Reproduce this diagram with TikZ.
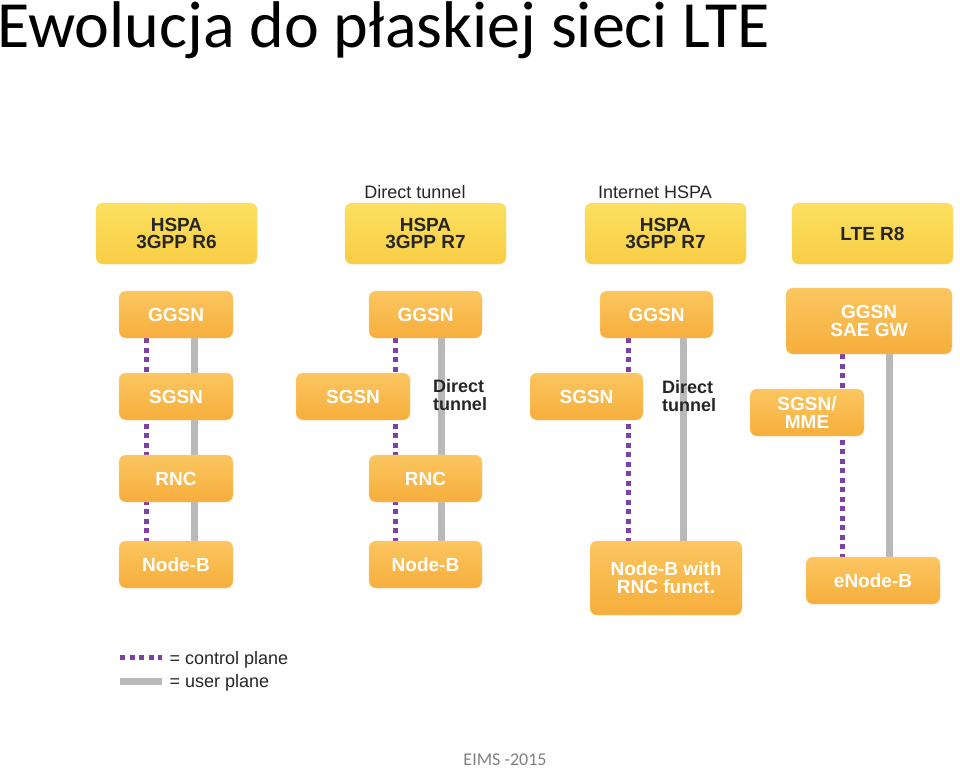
\documentclass[tikz,border=0pt]{standalone}
\usepackage{fontspec}
\setmainfont{Liberation Sans}
\newfontfamily\calib{Carlito}
\definecolor{ytop}{HTML}{FCE060}
\definecolor{ybot}{HTML}{F8CD45}
\definecolor{otop}{HTML}{FBC660}
\definecolor{obot}{HTML}{F6AE3C}
\definecolor{purp}{HTML}{7E3FA6}
\begin{document}
\begin{tikzpicture}[x=1pt,y=-1pt,
 hdr/.style={rounded corners=7pt,top color=ytop,bottom color=ybot,draw=ybot!80,font=\bfseries\fontsize{19}{17}\selectfont,align=center,text=black!85},
 el/.style={rounded corners=7pt,top color=otop,bottom color=obot,draw=otop!80,font=\bfseries\fontsize{19}{18}\selectfont,align=center,text=white},
 ctrl/.style={draw=purp,line width=5pt,dash pattern=on 5pt off 4.5pt},
 usr/.style={draw=gray!55,line width=7pt},
 lbl/.style={font=\fontsize{18}{17}\selectfont,align=left,text=black!85}]
\useasboundingbox (0,0) rectangle (960,769);
\node[anchor=north west,font=\calib\fontsize{66}{66}\selectfont,inner sep=0pt] (title) at (-3,1) {Ewolucja do płaskiej sieci LTE};
\node[font=\calib\fontsize{18}{18}\selectfont,text=gray] (foot) at (505,760) {EIMS -2015};
% lines
\coordinate (c1a) at (146,338); \coordinate (c1b) at (146,541);
\coordinate (u1a) at (194,338); \coordinate (u1b) at (194,541);
\coordinate (c2a) at (395,338); \coordinate (c2b) at (395,541);
\coordinate (u2a) at (441,338); \coordinate (u2b) at (441,541);
\coordinate (c3a) at (628,338); \coordinate (c3b) at (628,541);
\coordinate (u3a) at (683,338); \coordinate (u3b) at (683,541);
\coordinate (c4a) at (842,354); \coordinate (c4b) at (842,557);
\coordinate (u4a) at (889,354); \coordinate (u4b) at (889,557);
\foreach \i in {1,2,3,4}{\draw[ctrl] (c\i a) -- (c\i b); \draw[usr] (u\i a) -- (u\i b);}
% col1
\node[hdr,minimum width=161,minimum height=61] (h1) at (176.5,233.5) {HSPA\\3GPP R6};
\node[el,minimum width=114,minimum height=47] (g1) at (176,314.5) {GGSN};
\node[el,minimum width=114,minimum height=47] (s1) at (176,396.5) {SGSN};
\node[el,minimum width=114,minimum height=47] (r1) at (176,478.5) {RNC};
\node[el,minimum width=114,minimum height=47] (n1) at (176,564.5) {Node-B};
% col2
\node[lbl] (t2) at (415,192) {Direct tunnel};
\node[hdr,minimum width=161,minimum height=61] (h2) at (425.5,233.5) {HSPA\\3GPP R7};
\node[el,minimum width=113,minimum height=47] (g2) at (425.5,314.5) {GGSN};
\node[el,minimum width=114,minimum height=47] (s2) at (353,396.5) {SGSN};
\node[lbl,font=\bfseries\fontsize{18}{18}\selectfont] (d2) at (460,395) {Direct\\tunnel};
\node[el,minimum width=113,minimum height=47] (r2) at (425.5,478.5) {RNC};
\node[el,minimum width=113,minimum height=47] (n2) at (425.5,564.5) {Node-B};
% col3
\node[lbl] (t3) at (655,192) {Internet HSPA};
\node[hdr,minimum width=161,minimum height=61] (h3) at (665.5,233.5) {HSPA\\3GPP R7};
\node[el,minimum width=113,minimum height=47] (g3) at (656.5,314.5) {GGSN};
\node[el,minimum width=113,minimum height=47] (s3) at (586.5,396.5) {SGSN};
\node[lbl,font=\bfseries\fontsize{18}{18}\selectfont] (d3) at (689,396) {Direct\\tunnel};
\node[el,minimum width=152,minimum height=74] (n3) at (666,578) {Node-B with\\RNC funct.};
% col4
\node[hdr,minimum width=161,minimum height=61] (h4) at (872.5,233.5) {LTE R8};
\node[el,minimum width=166,minimum height=66] (g4) at (869,321) {GGSN\\SAE GW};
\node[el,minimum width=114,minimum height=47] (s4) at (807,412.5) {SGSN/\\MME};
\node[el,minimum width=134,minimum height=47] (n4) at (873,580.5) {eNode-B};
% legend
\coordinate (lc1) at (120,657); \coordinate (lc2) at (162,657);
\coordinate (lu1) at (120,681); \coordinate (lu2) at (162,681);
\draw[ctrl] (lc1) -- (lc2);
\draw[usr] (lu1) -- (lu2);
\node[lbl,anchor=west] (l1) at (166,660) {= control plane};
\node[lbl,anchor=west] (l2) at (166,683) {= user plane};
\end{tikzpicture}
\end{document}
